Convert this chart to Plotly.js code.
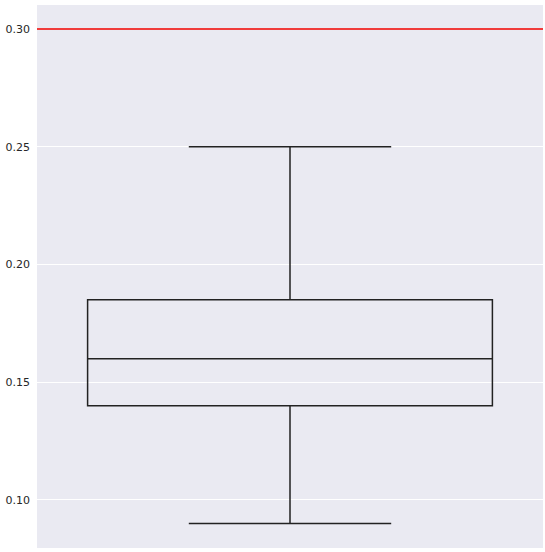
<!DOCTYPE html>
<html>
<head>
<meta charset="utf-8">
<script src="https://cdn.plot.ly/plotly-3.0.1.min.js"></script>
<style>html,body{margin:0;padding:0;background:#fff;}#chart{width:545px;height:552px;}</style>
</head>
<body>
<div id="chart"></div>
<script>
const categories = [0];
const lowerFence = [0.09];
const q1 = [0.14];
const median = [0.16];
const q3 = [0.185];
const upperFence = [0.25];
const thresholdValue = 0.30;
const yTickVals = [0.10, 0.15, 0.20, 0.25, 0.30];
const yTickText = ["0.10", "0.15", "0.20", "0.25", "0.30"];

const trace = {
  type: 'box',
  x: categories,
  q1: q1,
  median: median,
  q3: q3,
  lowerfence: lowerFence,
  upperfence: upperFence,
  width: 0.8,
  whiskerwidth: 0.5,
  fillcolor: 'rgba(0,0,0,0)',
  line: {color: '#222222', width: 1.5},
  boxpoints: false,
  hoverinfo: 'skip',
  showlegend: false
};

const layout = {
  width: 545,
  height: 552,
  margin: {l: 37, r: 2, t: 5, b: 4},
  paper_bgcolor: '#ffffff',
  plot_bgcolor: '#EAEAF2',
  font: {family: 'DejaVu Sans, sans-serif', size: 11, color: '#262626'},
  showlegend: false,
  xaxis: {
    range: [-0.5, 0.5],
    showticklabels: false,
    showgrid: false,
    zeroline: false,
    ticks: ''
  },
  yaxis: {
    range: [0.0796, 0.3102],
    tickvals: yTickVals,
    ticktext: yTickText,
    showgrid: true,
    gridcolor: '#ffffff',
    gridwidth: 1,
    zeroline: false,
    ticks: '',
    ticklabelstandoff: 6,
    tickfont: {size: 11, color: '#262626'}
  },
  shapes: [{
    type: 'line',
    xref: 'paper', x0: 0, x1: 1,
    yref: 'y', y0: thresholdValue, y1: thresholdValue,
    line: {color: '#f03c3c', width: 2},
    layer: 'above'
  }]
};

Plotly.newPlot('chart', [trace], layout, {displayModeBar: false, staticPlot: true});
</script>
</body>
</html>
